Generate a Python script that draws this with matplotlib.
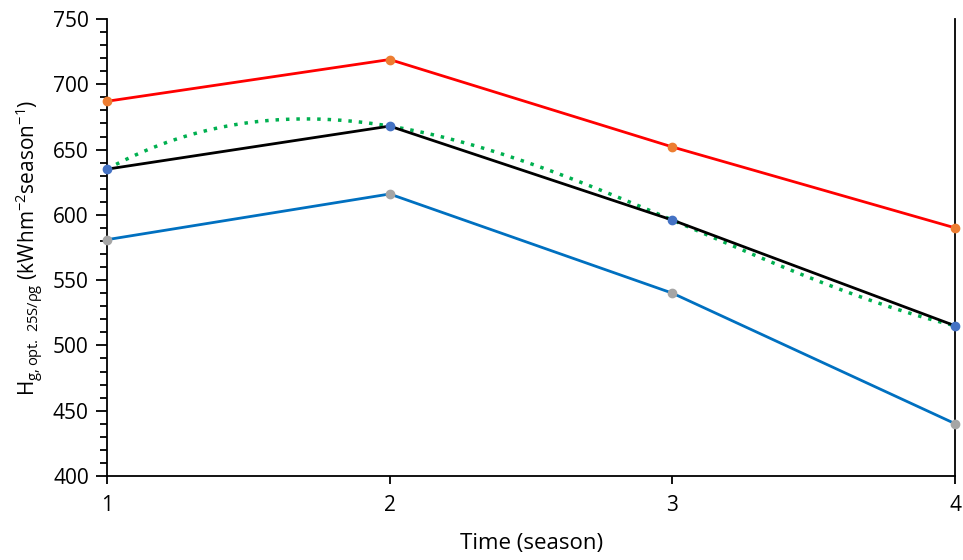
import numpy as np
import matplotlib
matplotlib.use("Agg")
import matplotlib.pyplot as plt
from matplotlib.ticker import MultipleLocator

plt.rcParams['font.family'] = ['Open Sans', 'DejaVu Sans']
plt.rcParams['mathtext.fontset'] = 'custom'
plt.rcParams['mathtext.rm'] = 'Open Sans'
plt.rcParams['mathtext.it'] = 'Open Sans'

# dados
estacoes = [1, 2, 3, 4]
serie_vermelha = [687, 719, 652, 590]
serie_preta = [635, 668, 596, 515]
serie_azul = [581, 616, 540, 440]

fig = plt.figure(figsize=(9.63, 5.6), dpi=100)
ax = fig.add_axes([0.111, 0.15, 0.881, 0.816])

ax.plot(estacoes, serie_vermelha, color='#FF0000', linewidth=2, zorder=3)
ax.plot(estacoes, serie_vermelha, 'o', color='#ED7D31', markersize=6, zorder=4, clip_on=False)

ax.plot(estacoes, serie_preta, color='black', linewidth=2, zorder=3)
ax.plot(estacoes, serie_preta, 'o', color='#4472C4', markersize=6, zorder=4, clip_on=False)

ax.plot(estacoes, serie_azul, color='#0070C0', linewidth=2, zorder=3)
ax.plot(estacoes, serie_azul, 'o', color='#A5A5A5', markersize=6, zorder=4, clip_on=False)

# linha de tendencia polinomial (grau 3) da serie preta
coef = np.polyfit(estacoes, serie_preta, 3)
xs = np.linspace(1, 4, 200)
ax.plot(xs, np.polyval(coef, xs), color='#00B050', linewidth=2.5,
        linestyle=(0, (1, 2)), zorder=2)

ax.set_xlim(1, 4)
ax.set_ylim(400, 750)
ax.set_xticks(estacoes)
ax.yaxis.set_major_locator(MultipleLocator(50))
ax.yaxis.set_minor_locator(MultipleLocator(10))

ax.spines['top'].set_visible(False)
for lado in ('left', 'bottom', 'right'):
    ax.spines[lado].set_linewidth(1.3)
ax.tick_params(axis='y', which='major', length=8, width=1.3, labelsize=15, direction='out', pad=5)
ax.tick_params(axis='y', which='minor', length=5, width=1.3, direction='out')
ax.tick_params(axis='x', length=6, width=1.3, labelsize=15, pad=8)

ax.set_xlabel('Time (season)', fontsize=16, labelpad=12)
ax.set_ylabel(r'H$_{\mathregular{g,opt.\ 25S/\rho g}}$ (kWhm$^{\mathregular{-2}}$season$^{\mathregular{-1}}$)',
              fontsize=15, labelpad=6)

plt.savefig('out.png', dpi=100)
